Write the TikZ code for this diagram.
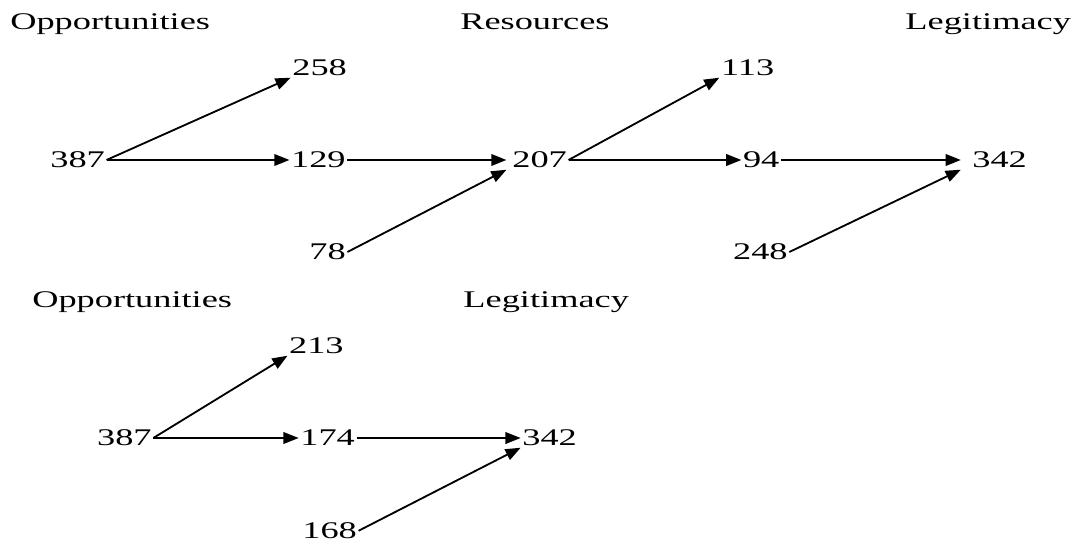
\documentclass[tikz,border=0pt]{standalone}
\usepackage{fontspec}
\setmainfont{Liberation Serif}
\usepackage{tikz}
\usetikzlibrary{arrows.meta,positioning,calc}
\newcommand{\hstr}[1]{\scalebox{1.52}[1]{#1}}

\begin{document}
\begin{tikzpicture}[font=\fontsize{17}{20}\selectfont]
\useasboundingbox (0,0) rectangle (27,-13.55);
\tikzset{num/.style={inner sep=1pt}}
\tikzset{head/.style={anchor=base west,inner sep=0pt}}
\tikzset{flow/.style={-{Triangle[length=3.8mm,width=2.9mm]},line width=1.3pt}}
% headings
\node[head] (hOppA) at (0.25,-0.73) {\hstr{Opportunities}};
\node[head] (hRes) at (11.5,-0.73) {\hstr{Resources}};
\node[head] (hLegA) at (22.63,-0.73) {\hstr{Legitimacy}};
\node[head] (hOppB) at (0.8,-7.7) {\hstr{Opportunities}};
\node[head] (hLegB) at (11.58,-7.7) {\hstr{Legitimacy}};
% upper path
\foreach \nm/\x/\y/\val in {aO/1.94/-4.0/387, aU/7.99/-1.7/258, aM/7.96/-4.0/129,
  aR/13.49/-4.0/207, aX/8.19/-6.3/78, aS/18.69/-1.7/113, aN/19.03/-4.0/94,
  aL/24.99/-4.0/342, aY/19.01/-6.3/248} {
  \node[num] (\nm) at (\x,\y) {\hstr{\val}};
}
\draw[flow] (aO.east) -- (aU.south west);
\draw[flow] (aO.east) -- (aM.west);
\draw[flow] (aM.east) -- ([xshift=-3pt]aR.west);
\draw[flow] (aX.east) -- ([xshift=-3pt]aR.south west);
\draw[flow] (aR.east) -- (aS.south west);
\draw[flow] (aR.east) -- (aN.west);
\draw[flow] (aN.east) -- ([xshift=-7pt]aL.west);
\draw[flow] (aY.east) -- ([xshift=-7pt]aL.south west);
% lower path
\foreach \nm/\x/\y/\val in {bO/3.11/-10.95/387, bU/7.91/-8.65/213, bM/8.19/-10.95/174,
  bL/13.74/-10.95/342, bY/8.24/-13.27/168} {
  \node[num] (\nm) at (\x,\y) {\hstr{\val}};
}
\draw[flow] (bO.east) -- (bU.south west);
\draw[flow] (bO.east) -- (bM.west);
\draw[flow] (bM.east) -- (bL.west);
\draw[flow] (bY.east) -- (bL.south west);
\end{tikzpicture}
\end{document}
